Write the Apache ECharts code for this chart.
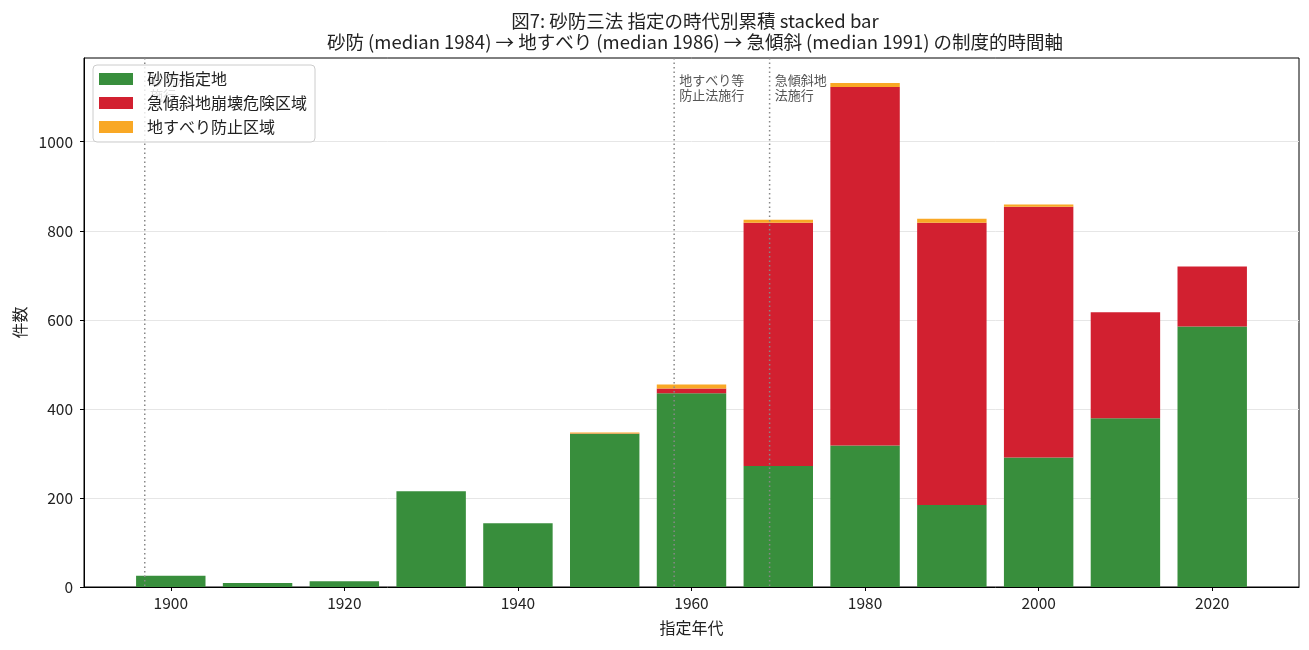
<!DOCTYPE html>
<html>
<head>
<meta charset="utf-8">
<script src="https://cdn.jsdelivr.net/npm/echarts@6/dist/echarts.min.js"></script>
<style>
  html, body { margin: 0; padding: 0; background: #fff; }
  #chart { width: 1309px; height: 650px; }
</style>
</head>
<body>
<div id="chart"></div>
<script>
// decade of designation
const decades = [1900, 1910, 1920, 1930, 1940, 1950, 1960, 1970, 1980, 1990, 2000, 2010, 2020];
const sabo      = [25, 9, 13, 215, 143, 344, 435, 272, 318, 184, 291, 379, 585];
const kyukeisha = [0, 0, 0, 0, 0, 1, 11, 546, 805, 634, 563, 238, 135];
const jisuberi  = [0, 0, 0, 0, 0, 2, 9, 7, 9, 9, 5, 0, 0];
const xTicks = [1900, 1920, 1940, 1960, 1980, 2000, 2020];
const yTicks = [0, 200, 400, 600, 800, 1000];

const lawYears = [1897, 1958, 1969];
const lawLabels = ['砂防法\n施行', '地すべり等\n防止法施行', '急傾斜地\n法施行'];

const FONT = '"Noto Sans CJK JP", "Noto Sans", sans-serif';
const xMin = 1890, xMax = 2030, yMax = 1188;
const BAR_W = 8; // years

const chart = echarts.init(document.getElementById('chart'));

// stacked bar drawn as custom series: [decade, value, base]
function stackData(vals, below) {
  return decades.map((d, i) => {
    let base = 0;
    below.forEach(arr => { base += arr[i]; });
    return [d, vals[i], base];
  });
}

function renderBar(params, api) {
  const x = api.value(0), v = api.value(1), b = api.value(2);
  if (!v) return null;
  const p0 = api.coord([x - BAR_W / 2, b + v]);
  const p1 = api.coord([x + BAR_W / 2, b]);
  return {
    type: 'rect',
    shape: { x: p0[0], y: p0[1], width: p1[0] - p0[0], height: p1[1] - p0[1] },
    style: { fill: api.visual('color') }
  };
}

function barSeries(name, color, data) {
  return {
    name: name, type: 'custom', renderItem: renderBar,
    itemStyle: { color: color },
    encode: { x: 0, y: [1, 2] },
    data: data
  };
}

const option = {
  animation: false,
  textStyle: { fontFamily: FONT },
  title: {
    text: '図7: 砂防三法 指定の時代別累積 stacked bar\n砂防 (median 1984) → 地すべり (median 1986) → 急傾斜 (median 1991) の制度的時間軸',
    left: 690, textAlign: 'center', top: 5,
    textStyle: { fontFamily: FONT, fontSize: 18.5, fontWeight: 'normal', color: '#222', lineHeight: 21 }
  },
  legend: {
    data: ['砂防指定地', '急傾斜地崩壊危険区域', '地すべり防止区域'],
    orient: 'vertical', left: 93, top: 65,
    itemWidth: 34, itemHeight: 12, itemGap: 8,
    padding: [6, 8, 7, 6],
    backgroundColor: 'rgba(255,255,255,0.8)',
    borderColor: '#ccc', borderWidth: 1, borderRadius: 4,
    icon: 'rect',
    textStyle: { fontFamily: FONT, fontSize: 16, color: '#222', padding: [0, 0, 0, 9] }
  },
  grid: {
    left: 84, right: 10, top: 58, bottom: 63,
    show: true, borderColor: '#000', borderWidth: 1
  },
  xAxis: {
    type: 'value', min: xMin, max: xMax,
    name: '指定年代', nameLocation: 'middle', nameGap: 33,
    nameTextStyle: { fontFamily: FONT, fontSize: 16, color: '#222' },
    axisLine: { lineStyle: { color: '#000' } },
    axisTick: { show: true, customValues: xTicks, length: 4, lineStyle: { color: '#000' } },
    axisLabel: { customValues: xTicks, fontSize: 15.5, color: '#222', margin: 8, formatter: v => String(v) },
    splitLine: { show: false }
  },
  yAxis: {
    type: 'value', min: 0, max: yMax,
    name: '件数', nameLocation: 'middle', nameGap: 56,
    nameTextStyle: { fontFamily: FONT, fontSize: 16, color: '#222' },
    axisLine: { show: true, lineStyle: { color: '#000' } },
    axisTick: { show: true, customValues: yTicks, length: 4, lineStyle: { color: '#000' } },
    axisLabel: { customValues: yTicks, fontSize: 15.5, color: '#222', margin: 11, formatter: v => String(v) },
    splitLine: { show: true, lineStyle: { color: '#e6e6e6', width: 1 } }
  },
  series: [
    barSeries('砂防指定地', '#388e3c', stackData(sabo, [])),
    barSeries('急傾斜地崩壊危険区域', '#d22030', stackData(kyukeisha, [sabo])),
    barSeries('地すべり防止区域', '#f9a825', stackData(jisuberi, [sabo, kyukeisha])),
    {
      // law enforcement markers
      name: 'laws', type: 'custom', z: 3, silent: true,
      data: lawYears.map((y, i) => [y, i]),
      renderItem: function (params, api) {
        const yr = api.value(0);
        const idx = api.value(1);
        const top = api.coord([yr, yMax]);
        const bot = api.coord([yr, 0]);
        const txt = api.coord([yr + 0.6, 1155]);
        return {
          type: 'group',
          children: [
            {
              type: 'line',
              shape: { x1: top[0], y1: top[1], x2: bot[0], y2: bot[1] },
              style: { stroke: '#888', lineWidth: 1.5, lineDash: [1.5, 3] }
            },
            {
              type: 'text',
              style: {
                x: txt[0], y: txt[1], text: lawLabels[idx],
                fill: '#555', fontSize: 13, fontFamily: FONT,
                lineHeight: 15, verticalAlign: 'top', align: 'left'
              }
            }
          ]
        };
      }
    }
  ]
};

chart.setOption(option);
</script>
</body>
</html>
